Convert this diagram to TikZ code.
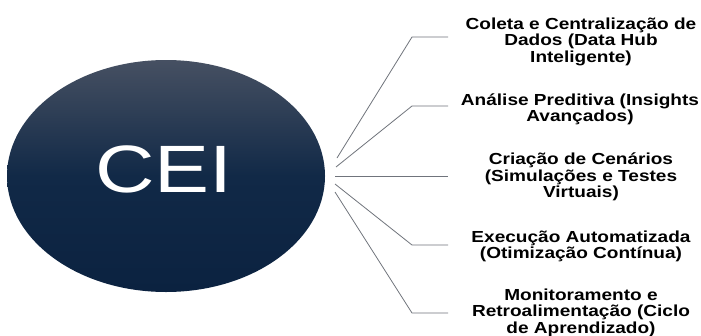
\documentclass[tikz,border=0pt]{standalone}
\usepackage{fontspec}
\setmainfont{Liberation Sans}
\newcommand\lbltext[1]{\scalebox{1.19}[1]{\fontsize{16}{16.2}\selectfont\bfseries\begin{tabular}{@{}c@{}}#1\end{tabular}}}
\begin{document}
\begin{tikzpicture}[x=1pt,y=-1pt,
  conn/.style={draw=lineGray,line width=0.8pt},
  lbl/.style={align=center,inner sep=0pt,text=black}]
\definecolor{lineGray}{HTML}{70747C}
\definecolor{navyTop}{HTML}{465062}
\definecolor{navyMid}{HTML}{112947}
\definecolor{navyBot}{HTML}{0B2240}
\useasboundingbox (0,0) rectangle (701,335);
\fill[white] (0,0) rectangle (701,335);
\shade[top color=navyTop,bottom color=navyBot,middle color=navyMid] (166,176) ellipse [x radius=159,y radius=116];
\node (cei) at (166,176) {};
\node[text=white,inner sep=0pt] (ceitxt) at (164,169) {\scalebox{1.23}[1]{\fontsize{67}{67}\selectfont CEI}};
\coordinate (s1) at (337,158);
\coordinate (s2) at (336,167);
\coordinate (s3) at (335,176);
\coordinate (s4) at (335,184);
\coordinate (s5) at (335,192);
\coordinate (k1) at (412,37);
\coordinate (k2) at (412,106);
\coordinate (k4) at (412,245);
\coordinate (k5) at (412,313);
\coordinate (e1) at (448,37);
\coordinate (e2) at (448,106);
\coordinate (e3) at (448,176);
\coordinate (e4) at (448,245);
\coordinate (e5) at (448,313);
\draw[conn] (s1) -- (k1) -- (e1);
\draw[conn] (s2) -- (k2) -- (e2);
\draw[conn] (s3) -- (e3);
\draw[conn] (s4) -- (k4) -- (e4);
\draw[conn] (s5) -- (k5) -- (e5);
\node[lbl] (t1) at (581,42.6) {\lbltext{Coleta e Centralização de\\Dados (Data Hub\\Inteligente)}};
\node[lbl] (t2) at (580,110.3) {\lbltext{Análise Preditiva (Insights\\Avançados)}};
\node[lbl] (t3) at (581,177.8) {\lbltext{Criação de Cenários\\(Simulações e Testes\\Virtuais)}};
\node[lbl] (t4) at (581,247.3) {\lbltext{Execução Automatizada\\(Otimização Contínua)}};
\node[lbl] (t5) at (581,313.5) {\lbltext{Monitoramento e\\Retroalimentação (Ciclo\\de Aprendizado)}};
\end{tikzpicture}
\end{document}
